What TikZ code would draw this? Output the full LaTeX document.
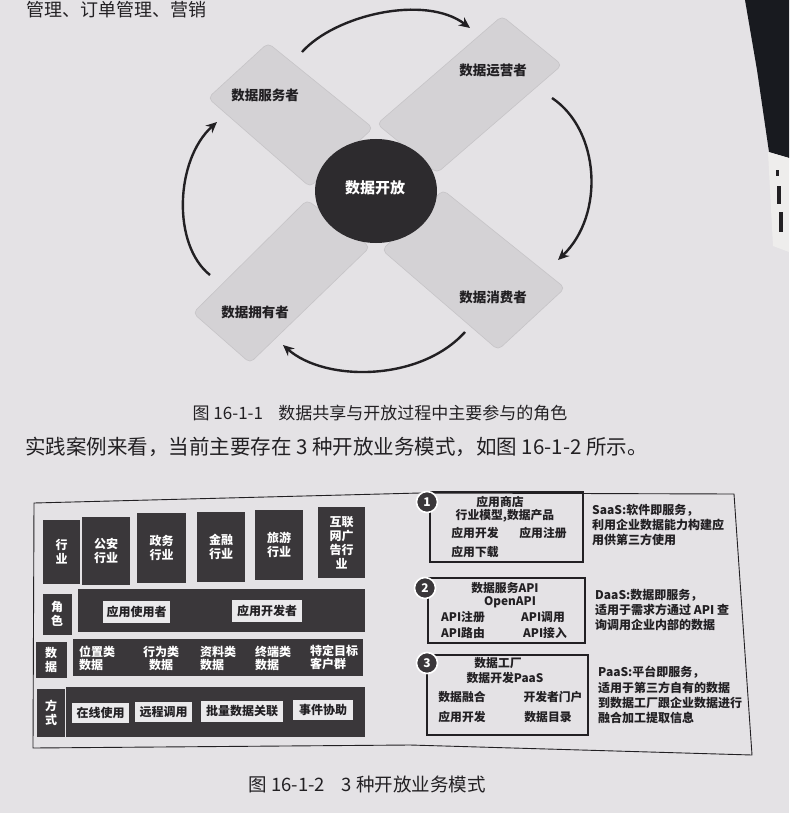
\documentclass[tikz,border=0pt]{standalone}
\usepackage{fontspec}
\newfontfamily\cjk{Noto Sans CJK SC}
\usetikzlibrary{arrows.meta}

\definecolor{paper}{RGB}{228,226,229}
\definecolor{armfill}{RGB}{212,210,213}
\definecolor{armedge}{RGB}{198,196,199}
\definecolor{hub}{RGB}{45,43,46}
\definecolor{ink}{RGB}{34,32,35}
\definecolor{panel}{RGB}{58,55,58}
\definecolor{chip}{RGB}{234,233,235}
\definecolor{spine}{RGB}{24,26,31}
\definecolor{stickerwhite}{RGB}{238,237,236}

\tikzset{
  arm/.style={fill=armfill, draw=armedge, line width=0.6pt, rounded corners=5pt},
  cyc/.style={draw=ink, line width=2.4pt, -{Stealth[length=11pt,width=10pt]}},
  armtext/.style={font={\cjk\bfseries\fontsize{13.5}{16}\selectfont}, text=ink},
  hubtext/.style={font={\cjk\bfseries\fontsize{15}{18}\selectfont}, text=white},
  bodytext/.style={font={\cjk\fontsize{20.5}{24}\selectfont}, text=ink, inner sep=0pt},
  captext/.style={font={\cjk\fontsize{17}{20}\selectfont}, text=ink, inner sep=0pt},
  darkbox/.style={fill=panel, text=white, inner sep=0pt, align=center,
    font={\cjk\bfseries\fontsize{12}{14}\selectfont}},
  chipbox/.style={fill=chip, text=ink, inner sep=0pt,
    font={\cjk\bfseries\fontsize{12}{14}\selectfont}},
  whitetext/.style={text=white, inner sep=0pt,
    font={\cjk\bfseries\fontsize{12}{13}\selectfont}},
  modebox/.style={draw=ink, line width=1.2pt},
  modetext/.style={text=ink, inner sep=0pt,
    font={\cjk\bfseries\fontsize{11.8}{14}\selectfont}},
  notetext/.style={text=ink, inner sep=0pt, align=left, anchor=west,
    font={\cjk\bfseries\fontsize{12}{15.2}\selectfont}},
  numdot/.style={circle, fill=panel, draw=white, line width=1.6pt, minimum size=21pt,
    inner sep=0pt, text=white, font={\cjk\bfseries\fontsize{12}{12}\selectfont}}
}

\begin{document}
\begin{tikzpicture}[x=1pt,y=-1pt]
\useasboundingbox (0,0) rectangle (789,813);
\clip (0,0) rectangle (789,813);
\fill[paper] (0,0) rectangle (789,813);

% book spine and sticker on the right edge
\fill[spine] (745,0) -- (789,0) -- (789,158) -- (769,152) -- (757,70) -- cycle;
\fill[stickerwhite] (768,152) -- (789,158) -- (789,252) -- (773,246) -- cycle;
\fill[ink] (776,170) rectangle (779,176);
\fill[ink] (777,186) rectangle (781,204);
\fill[ink] (779,212) rectangle (783,232);

% running text at the top of the page
\node[bodytext, font={\cjk\fontsize{18}{21}\selectfont}, anchor=west] (prevline) at (26,10) {管理、订单管理、营销};

% ---------- figure 16-1-1 ----------
\draw[arm] (268,43) -- (373,128) -- (310,187) -- (208,98) -- cycle;
\draw[arm] (502,16) -- (562,65) -- (437,173) -- (377,124) -- cycle;
\draw[arm] (443,190) -- (565,288) -- (498,350) -- (382,250) -- cycle;
\draw[arm] (307,200) -- (370,247) -- (250,363) -- (193,313) -- cycle;

\node[armtext] (server)   at (265,95)  {数据服务者};
\node[armtext] (operator) at (493,70)  {数据运营者};
\node[armtext] (consumer) at (493,297) {数据消费者};
\node[armtext] (owner)    at (255,312) {数据拥有者};

\fill[hub] (376,191) ellipse [x radius=61, y radius=52];
\node[hubtext] (hub) at (375,188) {数据开放};

\coordinate (topA) at (302,52);   \coordinate (topB) at (470,28);
\coordinate (rgtA) at (552,98);   \coordinate (rgtB) at (558,260);
\coordinate (botA) at (465,332);  \coordinate (botB) at (283,345);
\coordinate (lftA) at (210,275);  \coordinate (lftB) at (217,122);
\draw[cyc] (topA) .. controls (335,15) and (425,-6) .. (topB);
\draw[cyc] (rgtA) .. controls (600,130) and (605,215) .. (rgtB);
\draw[cyc] (botA) .. controls (420,382) and (325,382) .. (botB);
\draw[cyc] (lftA) .. controls (172,245) and (175,160) .. (lftB);

\node[captext] (cap1) at (380,413) {图 16-1-1\hspace{0.9em}数据共享与开放过程中主要参与的角色};

\node[bodytext, anchor=west] (body) at (25,447) {实践案例来看，当前主要存在 3 种开放业务模式，如图 16-1-2 所示。};

% ---------- figure 16-1-2 ----------
\draw[ink, line width=0.9pt] (34,503) -- (420,493) -- (734,494) -- (752,755) -- (410,745) -- (33,748) -- cycle;

% industries
\node[darkbox, minimum width=37, minimum height=64] (ind0) at (61.5,551.5) {行\\业};
\node[darkbox, minimum width=48, minimum height=68] (ind1) at (106,551) {公安\\行业};
\node[darkbox, minimum width=49, minimum height=70] (ind2) at (161.5,548) {政务\\行业};
\node[darkbox, minimum width=48, minimum height=70] (ind3) at (221,547) {金融\\行业};
\node[darkbox, minimum width=48, minimum height=70] (ind4) at (279,545) {旅游\\行业};
\node[darkbox, minimum width=47, minimum height=71] (ind5) at (341.5,542.5) {互联\\网广\\告行\\业};

% roles
\node[darkbox, minimum width=29, minimum height=41] (rolelab) at (57,614) {角\\色};
\node[darkbox, minimum width=287, minimum height=43] (rolebar) at (221.5,610.5) {};
\node[chipbox, minimum width=67, minimum height=22] (user) at (136.5,612) {应用使用者};
\node[chipbox, minimum width=70, minimum height=22] (dev)  at (267,611) {应用开发者};

% data
\node[darkbox, minimum width=31, minimum height=36] (datalab) at (51,660) {数\\据};
\node[darkbox, minimum width=290, minimum height=37] (databar) at (218,657) {};
\node[whitetext, anchor=west, align=left] (dat1) at (79,658) {位置类\\数据};
\node[whitetext, align=center] (dat2) at (161,658) {行为类\\数据};
\node[whitetext, anchor=west, align=left] (dat3) at (200,658) {资料类\\数据};
\node[whitetext, anchor=west, align=left] (dat4) at (255,658) {终端类\\数据};
\node[whitetext, anchor=west, align=left] (dat5) at (310,657) {特定目标\\客户群};

% access modes
\node[darkbox, minimum width=28, minimum height=48] (waylab) at (51,713) {方\\式};
\node[darkbox, minimum width=299, minimum height=50] (waybar) at (215,712) {};
\node[chipbox, minimum width=57, minimum height=20] (way1) at (100.5,713) {在线使用};
\node[chipbox, minimum width=57, minimum height=20] (way2) at (163.5,712) {远程调用};
\node[chipbox, minimum width=82, minimum height=21] (way3) at (242,711.5) {批量数据关联};
\node[chipbox, minimum width=60, minimum height=20] (way4) at (323,710) {事件协助};

% mode 1: SaaS
\draw[modebox] (430,492) rectangle (583,562);
\node[modetext] (s1a) at (500,502) {应用商店};
\node[modetext] (s1b) at (505,516) {行业模型,数据产品};
\node[modetext] (s1c) at (475,533) {应用开发};
\node[modetext] (s1d) at (543,533) {应用注册};
\node[modetext] (s1e) at (475,552) {应用下载};
\node[numdot] (n1) at (427,502) {1};
\node[notetext] (saas) at (592,525) {SaaS:软件即服务，\\利用企业数据能力构建应\\用供第三方使用};

% mode 2: DaaS
\draw[modebox] (428,578) rectangle (585,643);
\node[modetext] (s2a) at (505,588) {数据服务API};
\node[modetext] (s2b) at (510,602) {OpenAPI};
\node[modetext] (s2c) at (463,617) {API注册};
\node[modetext] (s2d) at (543,617) {API调用};
\node[modetext] (s2e) at (463,633) {API路由};
\node[modetext] (s2f) at (545,633) {API接入};
\node[numdot] (n2) at (425,588) {2};
\node[notetext] (daas) at (595,610) {DaaS:数据即服务，\\适用于需求方通过 API 查\\询调用企业内部的数据};

% mode 3: PaaS
\draw[modebox] (427,655) rectangle (588,735);
\node[modetext] (s3a) at (498,663) {数据工厂};
\node[modetext] (s3b) at (505,678) {数据开发PaaS};
\node[modetext] (s3c) at (462,697) {数据融合};
\node[modetext] (s3d) at (553,697) {开发者门户};
\node[modetext] (s3e) at (462,717) {应用开发};
\node[modetext] (s3f) at (548,717) {数据目录};
\node[numdot] (n3) at (427,663) {3};
\node[notetext] (paas) at (598,695) {PaaS:平台即服务，\\适用于第三方自有的数据\\到数据工厂跟企业数据进行\\融合加工提取信息};

\node[captext, font={\cjk\fontsize{18.5}{21}\selectfont}] (cap2) at (367,784) {图 16-1-2\hspace{0.9em}3 种开放业务模式};
\end{tikzpicture}
\end{document}
